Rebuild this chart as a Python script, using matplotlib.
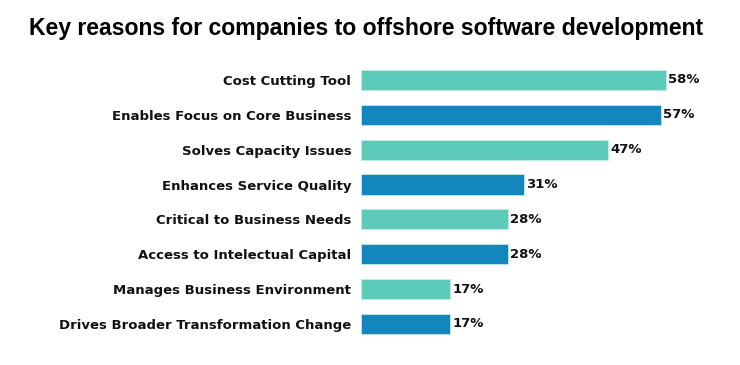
import matplotlib.pyplot as plt

# chart data
reasons = ['Cost Cutting Tool', 'Enables Focus on Core Business', 'Solves Capacity Issues',
           'Enhances Service Quality', 'Critical to Business Needs', 'Access to Intelectual Capital',
           'Manages Business Environment', 'Drives Broader Transformation Change']
shares = [58, 57, 47, 31, 28, 28, 17, 17]
colors = ['#5ccbb9', '#1386be'] * 4

fig = plt.figure(figsize=(7.4, 3.65), dpi=100)
ax = fig.add_axes([361 / 740, 0.0647, (700 - 361) / 740, 0.764])

ypos = list(range(len(reasons)))
ax.barh(ypos, shares, height=0.58, color=colors, edgecolor='#bfeee6', linewidth=0.6)
ax.set_xlim(0, 64.4)
ax.set_ylim(len(reasons) - 0.5, -0.5)

ax.set_yticks(ypos)
ax.set_yticklabels(reasons, fontsize=9.5, fontweight='bold', family='DejaVu Sans', color='#111111')
ax.tick_params(axis='y', length=0, pad=7)
ax.set_xticks([])
for s in ax.spines.values():
    s.set_visible(False)

for y, v in zip(ypos, shares):
    ax.text(v + 0.4, y, f'{v}%', va='center', ha='left', fontsize=9.5, fontweight='bold',
            family='DejaVu Sans', color='#111111')

fig.text(0.495, 0.922, 'Key reasons for companies to offshore software development',
         ha='center', va='center', fontsize=16.6, fontweight='bold', family='Liberation Sans')

plt.savefig('out.png', dpi=100)
plt.close()
